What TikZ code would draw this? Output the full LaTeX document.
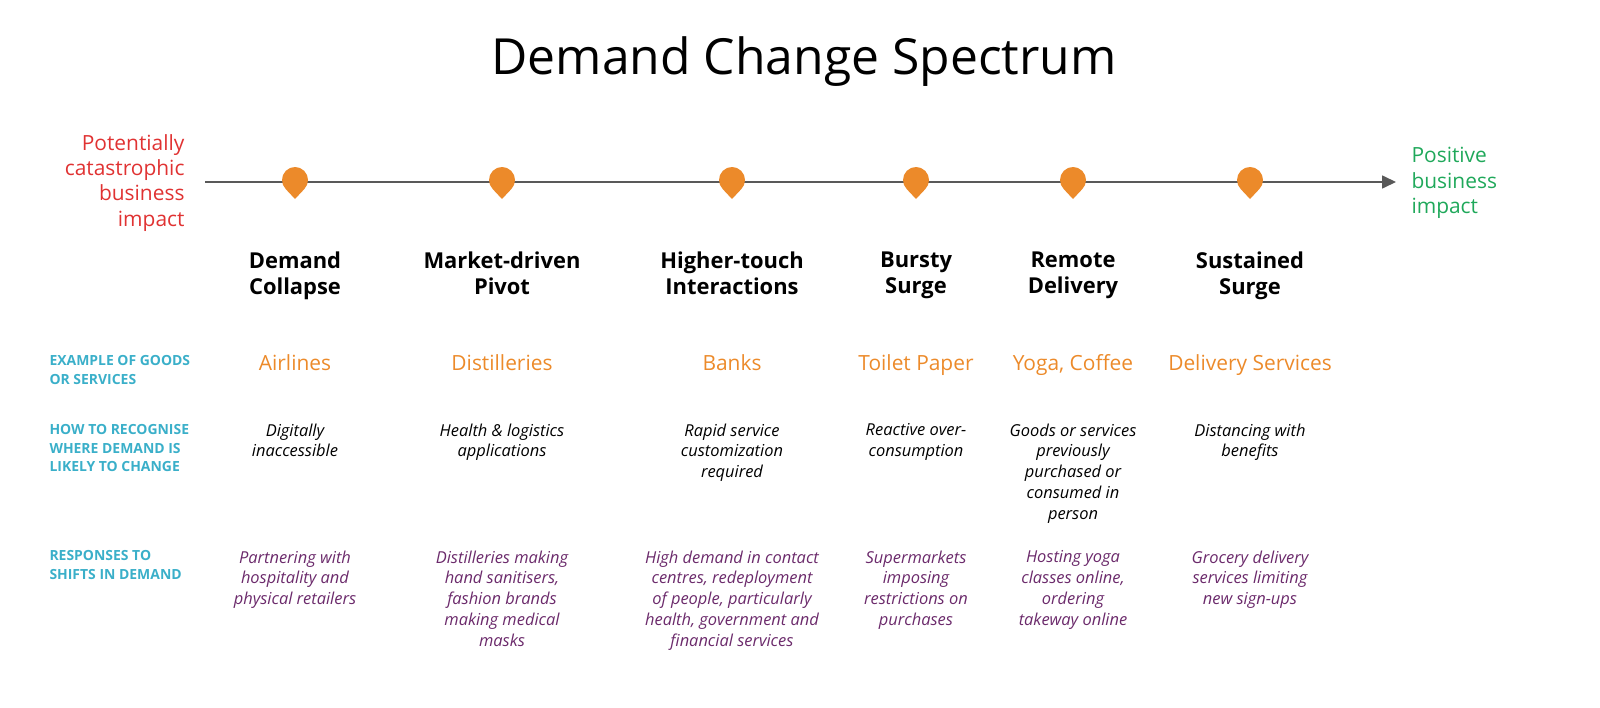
\documentclass[tikz,border=0pt]{standalone}
\usepackage{fontspec}
\setmainfont{Open Sans}
\usetikzlibrary{arrows.meta}
\definecolor{orng}{HTML}{EC8A2A}
\definecolor{blu}{HTML}{3AAFC9}
\definecolor{purp}{HTML}{6B2A6B}
\definecolor{redc}{HTML}{E03232}
\definecolor{grn}{HTML}{1FA85A}
\tikzset{
 head/.style={font=\fontsize{22}{26}\selectfont\bfseries,align=center,anchor=north},
 ex/.style={font=\fontsize{21}{25}\selectfont,text=orng,anchor=north},
 rec/.style={font=\fontsize{16.5}{21}\selectfont\itshape,align=center,anchor=north},
 resp/.style={font=\fontsize{16.5}{21}\selectfont\itshape,align=center,anchor=north,text=purp},
 lab/.style={font=\fontsize{14}{18.5}\selectfont\bfseries,text=blu,align=left,anchor=north west},
 pin/.style={fill=orng,draw=none}
}
\begin{document}
\begin{tikzpicture}[x=1bp,y=1bp]
\path[use as bounding box] (0,0) rectangle (1600,-708);
\node[font=\fontsize{50}{60}\selectfont] (title) at (804,-62) {Demand Change Spectrum};
\coordinate (s) at (205,-182);
\coordinate (e) at (1396,-182);
\draw[draw=black!65,line width=1.6pt,-{Triangle[length=14bp,width=13bp]}] (s) -- (e);
\node[font=\fontsize{21}{25.3}\selectfont,text=redc,align=right,anchor=north east] (neg) at (188,-131) {Potentially\\catastrophic\\business\\impact};
\node[font=\fontsize{21}{25.3}\selectfont,text=grn,align=left,anchor=north west] (pos) at (1408,-144) {Positive\\business\\impact};
\foreach \x in {295,502,732,916,1073,1250}{
  \fill[pin] (\x,-199) -- ({\x+9.2},-189.2) arc[start angle=-45,end angle=225,radius=13] -- cycle;
}
\node[lab] (l1) at (46,-352) {EXAMPLE OF GOODS\\OR SERVICES};
\node[lab] (l2) at (46,-421) {HOW TO RECOGNISE\\WHERE DEMAND IS\\LIKELY TO CHANGE};
\node[lab] (l3) at (46,-547) {RESPONSES TO\\SHIFTS IN DEMAND};
\node[head] (h1) at (295,-248) {Demand\\Collapse};
\node[head] (h2) at (502,-248) {Market-driven\\Pivot};
\node[head] (h3) at (732,-248) {Higher-touch\\Interactions};
\node[head] (h4) at (916,-248) {Bursty\\Surge};
\node[head] (h5) at (1073,-248) {Remote\\Delivery};
\node[head] (h6) at (1250,-248) {Sustained\\Surge};
\node[ex] (e1) at (295,-351) {Airlines};
\node[ex] (e2) at (502,-351) {Distilleries};
\node[ex] (e3) at (732,-351) {Banks};
\node[ex] (e4) at (916,-351) {Toilet Paper};
\node[ex] (e5) at (1073,-351) {Yoga, Coffee};
\node[ex] (e6) at (1250,-351) {Delivery Services};
\node[rec] (r1) at (295,-420) {Digitally\\inaccessible};
\node[rec] (r2) at (502,-420) {Health \& logistics\\applications};
\node[rec] (r3) at (732,-420) {Rapid service\\customization\\required};
\node[rec] (r4) at (916,-420) {Reactive over-\\consumption};
\node[rec] (r5) at (1073,-420) {Goods or services\\previously\\purchased or\\consumed in\\person};
\node[rec] (r6) at (1250,-420) {Distancing with\\benefits};
\node[resp] (p1) at (295,-547) {Partnering with\\hospitality and\\physical retailers};
\node[resp] (p2) at (502,-547) {Distilleries making\\hand sanitisers,\\fashion brands\\making medical\\masks};
\node[resp] (p3) at (732,-547) {High demand in contact\\centres, redeployment\\of people, particularly\\health, government and\\financial services};
\node[resp] (p4) at (916,-547) {Supermarkets\\imposing\\restrictions on\\purchases};
\node[resp] (p5) at (1073,-547) {Hosting yoga\\classes online,\\ordering\\takeway online};
\node[resp] (p6) at (1250,-547) {Grocery delivery\\services limiting\\new sign-ups};
\end{tikzpicture}
\end{document}
